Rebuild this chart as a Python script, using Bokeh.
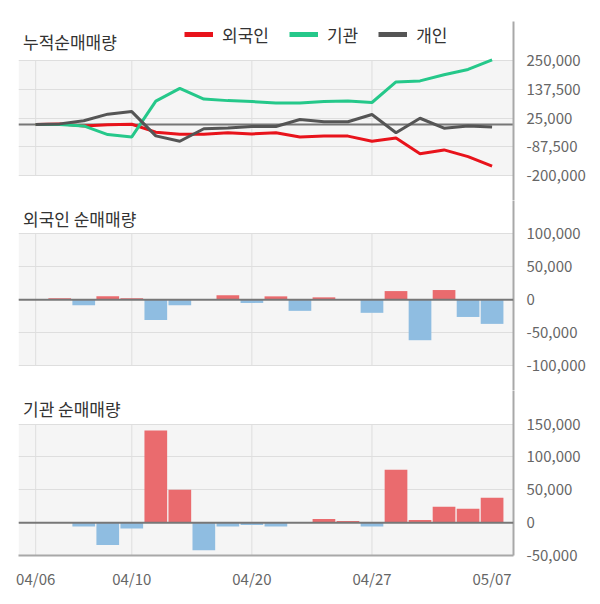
import numpy as np
from bokeh.plotting import figure
from bokeh.layouts import column
from bokeh.models import (Range1d, FixedTicker, NumeralTickFormatter, Span, BoxAnnotation,
                          Label, Legend, LegendItem, ColumnDataSource)
from bokeh.embed import file_html
from bokeh.resources import INLINE

# ---------------- data ----------------
dates = ["04/06", "04/07", "04/08", "04/09", "04/10", "04/13", "04/14", "04/16", "04/17",
         "04/20", "04/21", "04/22", "04/23", "04/24", "04/27", "04/28", "04/29", "05/04",
         "05/06", "05/07"]
xtick_idx = [0, 4, 9, 14, 19]
xgrid_idx = [0, 4, 9, 14]

foreign_daily = [0, 2000, -8600, 5000, 2000, -30800, -8600, 0, 6600, -5000,
                 5000, -17000, 3500, 0, -20000, 13000, -61600, 14600, -26300, -36800]
inst_daily = [0, 0, -6000, -34000, -9000, 140000, 50000, -42000, -6000, -3500,
              -6000, 0, 5600, 2500, -6000, 80500, 4000, 24000, 21000, 37700]
indiv_cum = [0, 2000, 14000, 40000, 50000, -45000, -66000, -17000, -14000, -8000,
             -8000, 19000, 10500, 10500, 38500, -32700, 24000, -15000, -6500, -10500]

cum_ticks = [-200000, -87500, 25000, 137500, 250000]
foreign_ticks = [-100000, -50000, 0, 50000, 100000]
inst_ticks = [-50000, 0, 50000, 100000, 150000]

titles = ["누적순매매량", "외국인 순매매량", "기관 순매매량"]
series_names = ["외국인", "기관", "개인"]

# ---------------- style ----------------
FONT = "Noto Sans CJK KR"
BAND = "#f5f5f5"
GRID = "#dedede"
AXIS = "#a8a8a8"
ZERO = "#777777"
RED_LINE = "#e8131b"
GREEN_LINE = "#25c88a"
GRAY_LINE = "#555555"
BAR_POS = "#ea6b6e"
BAR_NEG = "#8fbde1"
LABEL_C = "#666666"
TITLE_C = "#333333"

idx = list(range(len(dates)))
foreign_cum = list(np.cumsum(foreign_daily))
inst_cum = list(np.cumsum(inst_daily))

# layout (page pixels; page origin at 0,0)
FRAME_L, FRAME_R = 18, 513
X0_PX, DX_PX = 35.2, 24.02
W = 590
BORDER_L = FRAME_L
BORDER_R = W - (FRAME_R - FRAME_L) - BORDER_L


def x_range():
    return Range1d(-(X0_PX - FRAME_L) / DX_PX, (FRAME_R - X0_PX) / DX_PX)


def y_range(lo, hi, band_top, band_bot, frame_top, frame_bot):
    s = (hi - lo) / (band_bot - band_top)
    return Range1d(lo - (frame_bot - band_bot) * s, hi + (band_top - frame_top) * s)


shared_x = x_range()


def make_fig(height, yr, ticks, top_b, bot_b, frame_h, title, title_y_from_top, last=False):
    p = figure(width=W, height=height, x_range=shared_x, y_range=yr,
               output_backend="svg", toolbar_location=None, title=None,
               y_axis_location="right", x_axis_location="below" if last else None,
               min_border_left=BORDER_L, min_border_right=BORDER_R,
               min_border_top=top_b, min_border_bottom=bot_b)
    p.outline_line_color = None
    p.background_fill_color = "white"
    p.border_fill_color = "white"
    lo, hi = ticks[0], ticks[-1]
    p.add_layout(BoxAnnotation(bottom=lo, top=hi, fill_color=BAND, fill_alpha=1,
                               line_color=None, level="image"))
    p.segment(x0=xgrid_idx, x1=xgrid_idx, y0=[lo] * len(xgrid_idx), y1=[hi] * len(xgrid_idx),
              line_color=GRID, line_width=1, level="underlay")
    p.xgrid.visible = False
    p.ygrid.ticker = FixedTicker(ticks=ticks)
    p.ygrid.grid_line_color = GRID
    p.ygrid.grid_line_width = 1
    ya = p.yaxis[0]
    ya.ticker = FixedTicker(ticks=ticks)
    ya.formatter = NumeralTickFormatter(format="0,0")
    ya.axis_line_color = AXIS
    ya.axis_line_width = 2
    ya.major_tick_line_color = None
    ya.minor_tick_line_color = None
    ya.major_tick_out = 0
    ya.major_tick_in = 0
    ya.major_label_standoff = 13
    ya.major_label_text_font = FONT
    ya.major_label_text_font_size = "15px"
    ya.major_label_text_color = LABEL_C
    if last:
        xa = p.xaxis[0]
        xa.ticker = FixedTicker(ticks=xtick_idx)
        xa.major_label_overrides = {i: dates[i] for i in xtick_idx}
        xa.axis_line_color = AXIS
        xa.axis_line_width = 2
        xa.major_tick_line_color = None
        xa.minor_tick_line_color = None
        xa.major_tick_out = 0
        xa.major_tick_in = 0
        xa.major_label_standoff = 12
        xa.major_label_text_font = FONT
        xa.major_label_text_font_size = "15px"
        xa.major_label_text_color = LABEL_C
    p.add_layout(Label(x=4.5, y=frame_h - title_y_from_top, x_units="screen", y_units="screen",
                       text=title, text_font=FONT, text_font_size="17px",
                       text_color=TITLE_C, text_baseline="middle", text_align="left"))
    return p


# ---- figure 1: cumulative ----
F1_TOP = 21
p1 = make_fig(200, y_range(cum_ticks[0], cum_ticks[-1], 60, 175, F1_TOP, 200), cum_ticks,
              F1_TOP, 0, 200 - F1_TOP, titles[0], 40.7 - F1_TOP)
p1.add_layout(Span(location=0, dimension="width", line_color=ZERO, line_width=2, level="underlay"))
src = ColumnDataSource(dict(x=idx, f=foreign_cum, i=inst_cum, d=indiv_cum))
p1.line("x", "f", source=src, line_color=RED_LINE, line_width=3)
p1.line("x", "i", source=src, line_color=GREEN_LINE, line_width=3)
p1.line("x", "d", source=src, line_color=GRAY_LINE, line_width=3)
dummy = ColumnDataSource(dict(x=[float("nan")], y=[float("nan")]))
lr = [p1.line("x", "y", source=dummy, line_color=c, line_width=5)
      for c in (RED_LINE, GREEN_LINE, GRAY_LINE)]
legend = Legend(items=[LegendItem(label=n, renderers=[r]) for n, r in zip(series_names, lr)],
                orientation="horizontal", location=(184 - FRAME_L, 200 - 46.7),
                glyph_width=29, glyph_height=20, label_height=20, label_standoff=9,
                spacing=20, padding=0, margin=0, border_line_color=None,
                background_fill_alpha=0, label_text_font=FONT, label_text_font_size="17px",
                label_text_color=TITLE_C)
p1.add_layout(legend)

# ---- figure 2: foreign ----
p2 = make_fig(190, y_range(foreign_ticks[0], foreign_ticks[-1], 233.3, 365, 200, 390),
              foreign_ticks, 0, 0, 190, titles[1], 218.3 - 200)
p2.vbar(x=idx, top=foreign_daily, bottom=0, width=0.945,
        fill_color=[BAR_POS if v >= 0 else BAR_NEG for v in foreign_daily], line_color=None)
p2.add_layout(Span(location=0, dimension="width", line_color=ZERO, line_width=2))

# ---- figure 3: institution ----
p3 = make_fig(206, y_range(inst_ticks[0], inst_ticks[-1], 423.5, 555, 390, 555),
              inst_ticks, 0, 41, 165, titles[2], 408.3 - 390, last=True)
p3.vbar(x=idx, top=inst_daily, bottom=0, width=0.945,
        fill_color=[BAR_POS if v >= 0 else BAR_NEG for v in inst_daily], line_color=None)
p3.add_layout(Span(location=0, dimension="width", line_color=ZERO, line_width=2))

layout = column(p1, p2, p3, spacing=0)
open("out.html", "w").write(file_html(layout, INLINE))
